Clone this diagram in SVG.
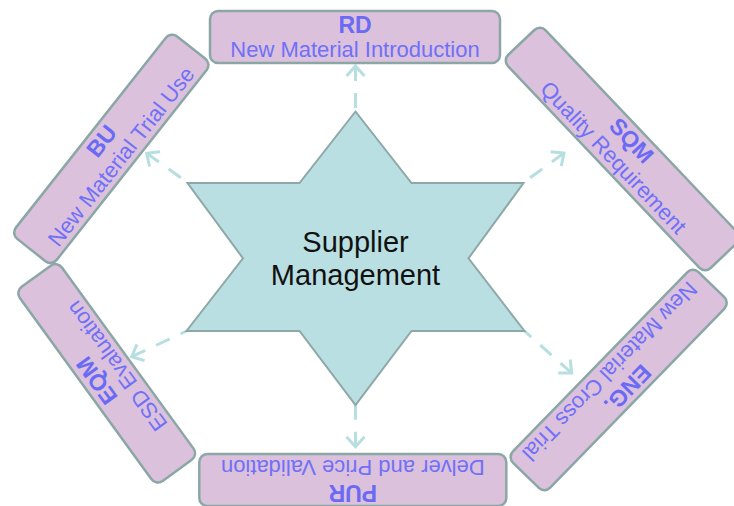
<svg xmlns="http://www.w3.org/2000/svg" width="734" height="506" viewBox="0 0 734 506">
<style>
.box rect{fill:#dbc1dc;stroke:#8ba7a5;stroke-width:2.5}
.t{font-family:"Liberation Sans",Arial,sans-serif;font-weight:bold;font-size:23px;fill:#6a6af4;text-anchor:middle}
.s{font-family:"Liberation Sans",Arial,sans-serif;font-size:22px;fill:#7070f8;text-anchor:middle}
.c{font-family:"Liberation Sans",Arial,sans-serif;font-size:29px;fill:#111;text-anchor:middle}
.conn path{fill:none;stroke:#b7dfe1;stroke-width:3;stroke-dasharray:15 12;marker-start:url(#ah)}
</style>
<defs>
<marker id="ah" markerUnits="userSpaceOnUse" markerWidth="24" markerHeight="24" viewBox="0 0 24 24" refX="13" refY="12" orient="auto-start-reverse">
<path d="M3,3 L13,12 L3,21" fill="none" stroke="#b7dfe1" stroke-width="3" stroke-dasharray="none"/>
</marker>
</defs>
<rect width="734" height="506" fill="#fff"/>
<g id="connectors" class="conn">
<path d="M355.5,66 L355.5,111"/>
<path d="M564,153 L523,183"/>
<path d="M146.7,153.3 L188,183"/>
<path d="M131.7,356.7 L186.5,331"/>
<path d="M571.7,373 L524.5,331"/>
<path d="M355.5,446.7 L355.5,405"/>
</g>
<g id="center">
<polygon points="355.5,111.5 411.5,183 523.5,183 468.5,258.3 524.5,331 411.5,331 355.5,405 299.5,331 186.5,331 243,258.3 187.5,183 299.5,183" fill="#b9dfe2" stroke="#8ea8a7" stroke-width="2"/>
<text class="c" x="355.5" y="251.5">Supplier</text>
<text class="c" x="355.5" y="285">Management</text>
</g>
<g id="rd" class="box" transform="translate(355,37)">
<rect x="-145" y="-26" width="290" height="52" rx="8"/>
<text class="t" y="-4.5">RD</text>
<text class="s" y="20">New Material Introduction</text>
</g>
<g id="sqm" class="box" transform="translate(622.5,149) rotate(46.5)">
<rect x="-147" y="-26" width="294" height="52" rx="8"/>
<text class="t" y="-4.5">SQM</text>
<text class="s" y="20">Quality Requirement</text>
</g>
<g id="eng" class="box" transform="translate(618.7,380) rotate(134.2)">
<rect x="-133" y="-26" width="266" height="52" rx="8"/>
<text class="t" y="-4.5">ENG.</text>
<text class="s" y="20">New Material Cross Trial</text>
</g>
<g id="pur" class="box" transform="translate(352.8,480) rotate(180)">
<rect x="-153.5" y="-26" width="307" height="52" rx="8"/>
<text class="t" y="-4.5">PUR</text>
<text class="s" y="20">Delver and Price Validation</text>
</g>
<g id="eqm" class="box" transform="translate(106.7,373.3) rotate(234)">
<rect x="-120" y="-26" width="240" height="52" rx="8"/>
<text class="t" y="-4.5">EQM</text>
<text class="s" y="20">ESD Evaluation</text>
</g>
<g id="bu" class="box" transform="translate(111.3,148.8) rotate(-51.7)">
<rect x="-129" y="-26" width="258" height="52" rx="8"/>
<text class="t" y="-4.5">BU</text>
<text class="s" y="20">New Material Trial Use</text>
</g>
</svg>
